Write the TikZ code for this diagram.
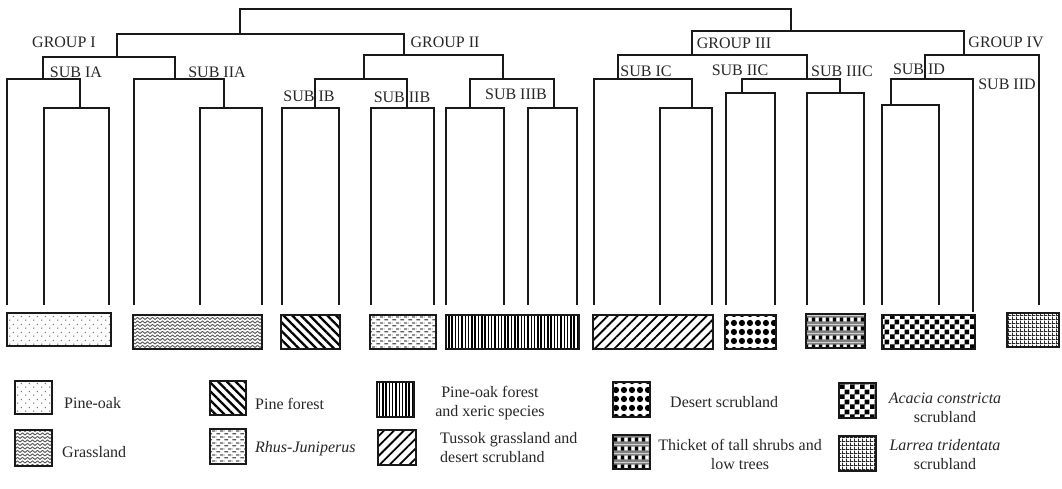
\documentclass[tikz,border=0pt]{standalone}
\usepackage{fontspec}
\setmainfont{Liberation Serif}
\usetikzlibrary{patterns,patterns.meta}

\pgfdeclarepatternformonly{pinedots}{\pgfqpoint{0pt}{0pt}}{\pgfqpoint{8pt}{7.5pt}}{\pgfqpoint{8pt}{7.5pt}}{%
  \pgfpathcircle{\pgfqpoint{2pt}{2pt}}{0.8pt}%
  \pgfpathcircle{\pgfqpoint{6pt}{5.75pt}}{0.8pt}%
  \pgfusepath{fill}}
\pgfdeclarepatternformonly{zigzag}{\pgfqpoint{-1pt}{-1pt}}{\pgfqpoint{6pt}{4.5pt}}{\pgfqpoint{5pt}{3.5pt}}{%
  \pgfsetlinewidth{0.9pt}%
  \pgfpathmoveto{\pgfqpoint{0pt}{0.5pt}}%
  \pgfpathlineto{\pgfqpoint{2.5pt}{2.6pt}}%
  \pgfpathlineto{\pgfqpoint{5pt}{0.5pt}}%
  \pgfusepath{stroke}}
\pgfdeclarepatternformonly{rhusdash}{\pgfqpoint{0pt}{0pt}}{\pgfqpoint{8pt}{6pt}}{\pgfqpoint{8pt}{6pt}}{%
  \pgfsetlinewidth{1.3pt}%
  \pgfpathmoveto{\pgfqpoint{0.5pt}{1.5pt}}\pgfpathlineto{\pgfqpoint{4.5pt}{1.5pt}}%
  \pgfpathmoveto{\pgfqpoint{4.5pt}{4.5pt}}\pgfpathlineto{\pgfqpoint{8pt}{4.5pt}}%
  \pgfpathmoveto{\pgfqpoint{0pt}{4.5pt}}\pgfpathlineto{\pgfqpoint{0.5pt}{4.5pt}}%
  \pgfusepath{stroke}}
\pgfdeclarepatternformonly{bigdots}{\pgfqpoint{0pt}{0pt}}{\pgfqpoint{8.4pt}{8.4pt}}{\pgfqpoint{8.4pt}{8.4pt}}{%
  \pgfpathcircle{\pgfqpoint{4.2pt}{4.2pt}}{3.3pt}%
  \pgfusepath{fill}}
\pgfdeclarepatternformonly{checker}{\pgfqpoint{0pt}{0pt}}{\pgfqpoint{10pt}{10pt}}{\pgfqpoint{10pt}{10pt}}{%
  \pgfpathrectangle{\pgfqpoint{0pt}{0pt}}{\pgfqpoint{5pt}{5pt}}%
  \pgfpathrectangle{\pgfqpoint{5pt}{5pt}}{\pgfqpoint{5pt}{5pt}}%
  \pgfusepath{fill}}
\pgfdeclarepatternformonly{finegrid}{\pgfqpoint{0pt}{0pt}}{\pgfqpoint{3.6pt}{3.6pt}}{\pgfqpoint{3.6pt}{3.6pt}}{%
  \pgfsetlinewidth{1.1pt}%
  \pgfpathmoveto{\pgfqpoint{0pt}{0.5pt}}\pgfpathlineto{\pgfqpoint{3.6pt}{0.5pt}}%
  \pgfpathmoveto{\pgfqpoint{0.5pt}{0pt}}\pgfpathlineto{\pgfqpoint{0.5pt}{3.6pt}}%
  \pgfusepath{stroke}}
\pgfdeclarepatterninherentlycolored{thicketpat}{\pgfqpoint{0pt}{0pt}}{\pgfqpoint{6.6pt}{8.6pt}}{\pgfqpoint{6.6pt}{8.6pt}}{%
  \pgfsetfillcolor{black!50}%
  \pgfpathrectangle{\pgfqpoint{0pt}{0pt}}{\pgfqpoint{6.6pt}{8.6pt}}\pgfusepath{fill}%
  \pgfsetfillcolor{black}%
  \pgfpathrectangle{\pgfqpoint{0pt}{2.6pt}}{\pgfqpoint{3.5pt}{4pt}}\pgfusepath{fill}%
  \pgfsetfillcolor{white}%
  \pgfpathrectangle{\pgfqpoint{3.5pt}{2.6pt}}{\pgfqpoint{3.1pt}{4pt}}\pgfusepath{fill}}

\tikzset{
  tree/.style={line width=1.9pt, black!90},
  lbl/.style={font=\fontsize{16}{18}\selectfont, text=black!85, inner sep=0pt},
  legtxt/.style={font=\fontsize{16}{19}\selectfont, text=black!85, inner sep=0pt},
  pbox/.style={draw=black!90, line width=2.3pt},
  fpineoak/.style={pbox, pattern=pinedots, pattern color=black!55},
  fgrass/.style={pbox, pattern=zigzag, pattern color=black!65},
  fpine/.style={pbox, pattern={Lines[angle=-45, distance=6.2pt, line width=2.3pt]}},
  frhus/.style={pbox, pattern=rhusdash, pattern color=black!65},
  fxeric/.style={pbox, pattern={Lines[angle=90, distance=3.3pt, line width=1.5pt]}},
  ftussok/.style={pbox, pattern={Lines[angle=45, distance=7pt, line width=1.8pt]}},
  fdesert/.style={pbox, pattern=bigdots},
  fthicket/.style={pbox, pattern=thicketpat},
  facacia/.style={pbox, pattern=checker},
  flarrea/.style={pbox, pattern=finegrid, pattern color=black!85},
}

\begin{document}
\begin{tikzpicture}[x=1pt, y=-1pt]
\useasboundingbox (0,0) rectangle (1062,488);

% ---------- labels ----------
\node[lbl] (g1) at (64,42) {GROUP I};
\node[lbl] (g2) at (445,42) {GROUP II};
\node[lbl] (g3) at (734,43) {GROUP III};
\node[lbl] (g4) at (1006,42) {GROUP IV};
\node[lbl] (sia) at (76,72) {SUB IA};
\node[lbl] (siia) at (217,72) {SUB IIA};
\node[lbl] (sib) at (309,96) {SUB IB};
\node[lbl] (siib) at (402,97) {SUB IIB};
\node[lbl] (siiib) at (516,94) {SUB IIIB};
\node[lbl] (sic) at (646,71) {SUB IC};
\node[lbl] (siic) at (740,70) {SUB IIC};
\node[lbl] (siiic) at (842,71) {SUB IIIC};
\node[lbl] (sid) at (919,69) {SUB ID};
\node[lbl] (siid) at (1007,84) {SUB IID};

% ---------- dendrogram ----------
\draw[tree] (240,34) -- (240,9) -- (791,9) -- (791,31);
\draw[tree] (117,57) -- (117,34) -- (404,34) -- (404,55);
\draw[tree] (43,79) -- (43,57) -- (175,57) -- (175,79);
\draw[tree] (7,305) -- (7,79) -- (80,79) -- (80,108);
\draw[tree] (44,305) -- (44,108) -- (109,108) -- (109,305);
\draw[tree] (134,305) -- (134,79) -- (224,79) -- (224,108);
\draw[tree] (200,305) -- (200,108) -- (262,108) -- (262,305);
\draw[tree] (364,79) -- (364,55) -- (503,55) -- (503,79);
\draw[tree] (315,108) -- (315,79) -- (407,79) -- (407,108);
\draw[tree] (282,305) -- (282,108) -- (339,108) -- (339,305);
\draw[tree] (371,305) -- (371,108) -- (434,108) -- (434,305);
\draw[tree] (470,108) -- (470,79) -- (554,79) -- (554,108);
\draw[tree] (446,305) -- (446,108) -- (504,108) -- (504,305);
\draw[tree] (528,305) -- (528,108) -- (577,108) -- (577,305);
\draw[tree] (692,55) -- (692,31) -- (964,31) -- (964,55);
\draw[tree] (618,79) -- (618,55) -- (807,55) -- (807,79);
\draw[tree] (594,305) -- (594,79) -- (692,79) -- (692,108);
\draw[tree] (660,305) -- (660,108) -- (712,108) -- (712,305);
\draw[tree] (742,93) -- (742,79) -- (840,79) -- (840,93);
\draw[tree] (726,305) -- (726,93) -- (775,93) -- (775,305);
\draw[tree] (807,305) -- (807,93) -- (864,93) -- (864,305);
\draw[tree] (925,79) -- (925,55) -- (1039,55) -- (1039,305);
\draw[tree] (891,105) -- (891,79) -- (973,79) -- (973,312);
\draw[tree] (882,305) -- (882,105) -- (939,105) -- (939,305);

% ---------- bars ----------
\path[fpineoak] (7,313) rectangle (111,346);
\path[fgrass]   (133,315) rectangle (262,349);
\path[fpine]    (281,315) rectangle (340,349);
\path[frhus]    (370,315) rectangle (436,349);
\path[fxeric]   (446,315) rectangle (579,349);
\path[ftussok]  (593,315) rectangle (713,349);
\path[fdesert]  (725,315) rectangle (776,349);
\path[fthicket] (806,314) rectangle (865,348);
\path[facacia]  (882,315) rectangle (975,349);
\path[flarrea]  (1007,313) rectangle (1059,347);

% ---------- legend ----------
\path[fpineoak] (15,381) rectangle (52,414);
\node[legtxt, anchor=west] (lpo) at (64,403) {Pine-oak};
\path[fgrass] (15,430) rectangle (52,466);
\node[legtxt, anchor=west] (lgr) at (62,452) {Grassland};
\path[fpine] (210,381) rectangle (246,415);
\node[legtxt, anchor=west] (lpf) at (255,404) {Pine forest};
\path[frhus] (210,429) rectangle (246,464);
\node[legtxt, anchor=west] (lrj) at (255,449) {\itshape Rhus-Juniperus};
\path[fxeric] (377,382) rectangle (414,417);
\node[legtxt, align=center] (lxe) at (490,403) {Pine-oak forest\\and xeric species};
\path[ftussok] (378,430) rectangle (416,465);
\node[legtxt, align=left, anchor=west] (ltu) at (440,448) {Tussok grassland and\\desert scrubland};
\path[fdesert] (613,382) rectangle (650,417);
\node[legtxt, anchor=west] (lds) at (670,402) {Desert scrubland};
\path[fthicket] (613,435) rectangle (650,469);
\node[legtxt, align=center] (lth) at (740,454) {Thicket of tall shrubs and\\low trees};
\path[facacia] (839,383) rectangle (876,418);
\node[legtxt, align=center] (lac) at (945,408) {\itshape Acacia constricta\\scrubland};
\path[flarrea] (839,436) rectangle (876,471);
\node[legtxt, align=center] (lla) at (945,455) {\itshape Larrea tridentata\\scrubland};
\end{tikzpicture}
\end{document}
